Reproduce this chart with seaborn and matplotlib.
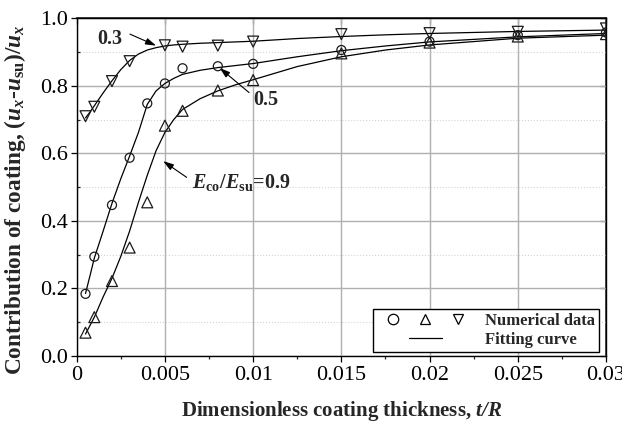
import matplotlib
matplotlib.use("Agg")
import matplotlib.pyplot as plt
import seaborn as sns
from matplotlib.lines import Line2D
from matplotlib.legend_handler import HandlerTuple
from matplotlib.ticker import FixedLocator, MultipleLocator

# ---------------- data ----------------
t_num = [0.0005, 0.001, 0.002, 0.003, 0.004, 0.005, 0.006, 0.008, 0.01, 0.015, 0.02, 0.025, 0.03]
num_05 = [0.184, 0.294, 0.447, 0.587, 0.748, 0.807, 0.852, 0.858, 0.865, 0.906, 0.931, 0.950, 0.958]
num_09 = [0.069, 0.115, 0.222, 0.321, 0.455, 0.682, 0.726, 0.786, 0.817, 0.896, 0.928, 0.946, 0.953]
t_num_03 = [0.0005, 0.001, 0.002, 0.003, 0.005, 0.006, 0.008, 0.01, 0.015, 0.02, 0.025, 0.03]
num_03 = [0.710, 0.738, 0.814, 0.873, 0.920, 0.916, 0.919, 0.931, 0.953, 0.956, 0.960, 0.970]

t_fit = [0.0005, 0.00075, 0.001, 0.0015, 0.002, 0.0025, 0.003, 0.0035, 0.004, 0.0045,
         0.005, 0.0055, 0.006, 0.007, 0.008, 0.009, 0.01, 0.0125, 0.015, 0.0175,
         0.02, 0.025, 0.03]
fit_05 = [0.185, 0.237, 0.290, 0.370, 0.452, 0.525, 0.592, 0.662, 0.745, 0.785,
          0.807, 0.822, 0.834, 0.846, 0.854, 0.860, 0.866, 0.886, 0.904, 0.918,
          0.930, 0.945, 0.955]
fit_09 = [0.065, 0.090, 0.115, 0.175, 0.230, 0.295, 0.370, 0.455, 0.535, 0.608,
          0.662, 0.700, 0.730, 0.762, 0.785, 0.803, 0.818, 0.857, 0.886, 0.906,
          0.921, 0.941, 0.950]
fit_03 = [0.705, 0.722, 0.741, 0.779, 0.815, 0.848, 0.875, 0.894, 0.906, 0.913,
          0.918, 0.921, 0.923, 0.926, 0.928, 0.930, 0.932, 0.940, 0.946, 0.951,
          0.955, 0.961, 0.965]

x_ticks = [0, 0.005, 0.01, 0.015, 0.02, 0.025, 0.03]
x_ticklabels = ["0", "0.005", "0.01", "0.015", "0.02", "0.025", "0.03"]
y_ticks = [0.0, 0.2, 0.4, 0.6, 0.8, 1.0]
y_ticklabels = ["0.0", "0.2", "0.4", "0.6", "0.8", "1.0"]

# ---------------- style ----------------
sns.set_theme(style="ticks")
plt.rcParams["font.family"] = ["Liberation Serif", "DejaVu Serif"]
plt.rcParams["mathtext.fontset"] = "custom"
plt.rcParams["mathtext.rm"] = "Liberation Serif"
plt.rcParams["mathtext.it"] = "Liberation Serif:italic"
plt.rcParams["mathtext.bf"] = "Liberation Serif:bold"
try:
    plt.rcParams["mathtext.bfit"] = "Liberation Serif:italic:bold"
except Exception:
    pass

fig = plt.figure(figsize=(6.22, 4.25), dpi=100)
ax = fig.add_axes([0.1233, 0.1624, 0.851, 0.7946])

# fitted curves
for fy in (fit_05, fit_09, fit_03):
    sns.lineplot(x=t_fit, y=fy, color="black", lw=0.9, ax=ax, sort=False,
                 estimator=None, zorder=3)

# numerical data
sns.scatterplot(x=t_num, y=num_05, marker="o", s=42, color="k", facecolor="none",
                edgecolor="k", linewidth=0.9, ax=ax, zorder=4)
sns.scatterplot(x=t_num, y=num_09, marker="^", s=62, color="k", facecolor="none",
                edgecolor="k", linewidth=0.9, ax=ax, zorder=4)
sns.scatterplot(x=t_num_03, y=num_03, marker="v", s=62, color="k", facecolor="none",
                edgecolor="k", linewidth=0.9, ax=ax, zorder=4)

ax.set_xlim(0, 0.03)
ax.set_ylim(0, 1.0)

ax.xaxis.set_major_locator(FixedLocator(x_ticks))
ax.set_xticklabels(x_ticklabels)
ax.yaxis.set_major_locator(FixedLocator(y_ticks))
ax.set_yticklabels(y_ticklabels)
ax.xaxis.set_minor_locator(MultipleLocator(0.0025))
ax.yaxis.set_minor_locator(MultipleLocator(0.1))

ax.set_axisbelow(True)
ax.grid(which="major", color="#b0b0b0", lw=1.0)
ax.yaxis.grid(which="minor", color="#d4d4d4", ls=":", lw=0.8)
ax.xaxis.grid(False, which="minor")

ax.tick_params(axis="x", which="major", direction="out", length=4, width=0.9,
               bottom=True, labelsize=16, colors="black", pad=3)
ax.tick_params(axis="x", which="minor", direction="out", length=2.5, width=0.9, bottom=True)
ax.tick_params(axis="y", which="major", direction="out", length=4, width=0.9,
               left=True, labelsize=16, colors="black", pad=2)
ax.tick_params(axis="y", which="minor", direction="in", length=2.5, width=0.9, left=True)

for sp in ax.spines.values():
    sp.set_visible(True)
    sp.set_color("black")
    sp.set_linewidth(1.0)

secx = ax.secondary_xaxis("top")
secx.set_xticks(x_ticks)
secx.tick_params(direction="in", length=4, width=0.9, labeltop=False, top=True)
secx.set_xticklabels([])
secy = ax.secondary_yaxis("right")
secy.set_yticks(y_ticks)
secy.tick_params(direction="in", length=4, width=0.9, labelright=False, right=True)
secy.set_yticklabels([])

ax.set_xlabel(r"Dimensionless coating thickness, $\mathbfit{t/R}$",
              fontsize=15, fontweight="bold", labelpad=10)
ax.set_ylabel(r"Contribution of coating, ($\mathbfit{u}_{\mathbfit{x}}$-$\mathbfit{u}_{\mathbf{su}}$)/$\mathbfit{u}_{\mathbfit{x}}$",
              fontsize=16.8, fontweight="bold")
ax.yaxis.set_label_coords(-0.092, 0.463)

# annotations
arrow_kw = dict(arrowstyle="-|>,head_length=0.7,head_width=0.22", color="black",
                lw=0.8, shrinkA=0, shrinkB=0, mutation_scale=9)
ax.annotate("", xy=(0.0045, 0.919), xytext=(0.00302, 0.953), arrowprops=arrow_kw)
ax.annotate("", xy=(0.0081, 0.853), xytext=(0.00977, 0.780), arrowprops=arrow_kw)
ax.annotate("", xy=(0.0049, 0.577), xytext=(0.00623, 0.529), arrowprops=arrow_kw)
ax.text(0.0019, 0.939, "0.3", fontsize=14.5, fontweight="bold", ha="center", va="center")
ax.text(0.0100, 0.758, "0.5", fontsize=14.5, fontweight="bold", ha="left", va="center")
ax.text(0.00651, 0.513, r"$\mathbfit{E}_{\mathbf{co}}$/$\mathbfit{E}_{\mathbf{su}}$=0.9",
        fontsize=14.5, fontweight="bold", ha="left", va="center")

# legend
def mk(m):
    return Line2D([], [], marker=m, ls="none", mfc="none", mec="black", ms=7.5, mew=0.9)

blank = Line2D([], [], color="none")
fitline = Line2D([], [], color="black", lw=0.9)
leg = ax.legend([(mk("o"), mk("^"), mk("v")), (blank, fitline, Line2D([], [], color="none"))],
                ["Numerical data", "Fitting curve"],
                handler_map={tuple: HandlerTuple(ndivide=None, pad=0)},
                loc="lower right", bbox_to_anchor=(0.987, 0.013), borderaxespad=0,
                prop={"weight": "bold", "size": 12}, handlelength=5.8,
                handletextpad=0.7, labelspacing=0.2, borderpad=0.22,
                frameon=True, fancybox=False, edgecolor="black", framealpha=1)
leg.get_frame().set_linewidth(1.0)

fig.savefig("out.png", dpi=100)
